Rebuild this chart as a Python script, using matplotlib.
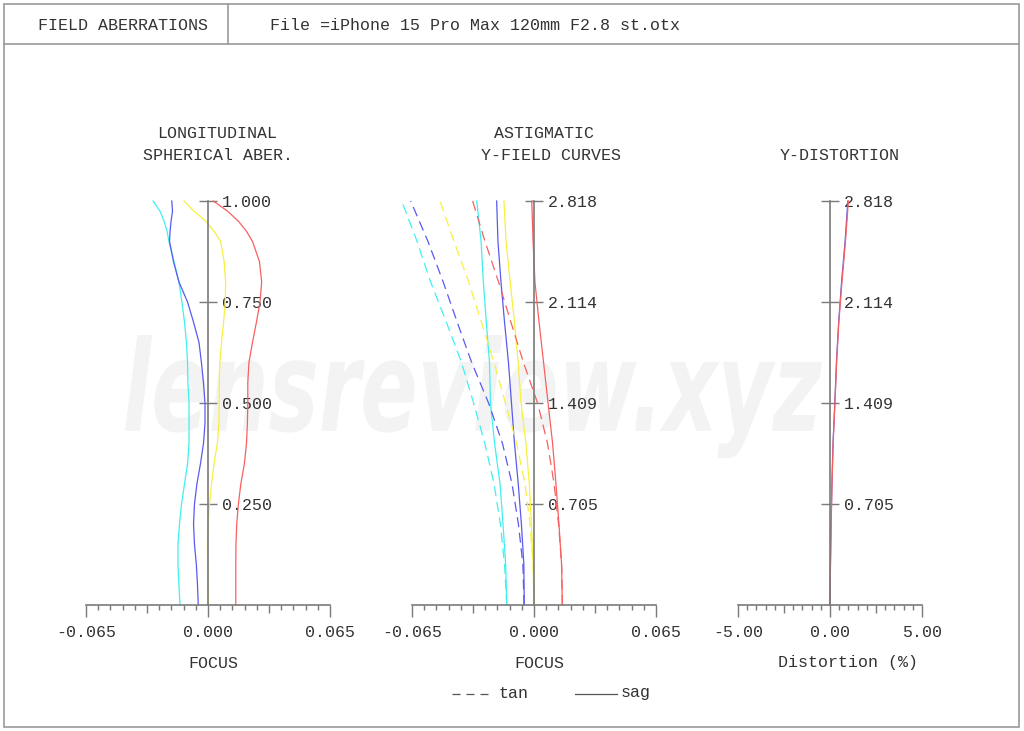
import numpy as np
import matplotlib
matplotlib.use("Agg")
import matplotlib.pyplot as plt
from matplotlib.lines import Line2D
from matplotlib.patches import Rectangle, PathPatch
from matplotlib.textpath import TextPath
from matplotlib.font_manager import FontProperties
from matplotlib.transforms import Affine2D

plt.rcParams['font.family'] = ['Liberation Mono', 'DejaVu Sans Mono']
plt.rcParams['font.size'] = 12

W, H = 1024, 731
TXT = '#333333'
AX = '#7a7a7a'
COLORS = {'cyan': '#40f0f0', 'blue': '#5a5af0', 'yellow': '#f8f040', 'red': '#f86060'}

# ---- longitudinal spherical aberration (relative pupil height vs focus, mm)
pupil = [0.0, 0.05, 0.1, 0.15, 0.2, 0.25, 0.3, 0.35, 0.4, 0.45, 0.5, 0.55, 0.6,
         0.65, 0.7, 0.75, 0.8, 0.85, 0.9, 0.925, 0.95, 0.975, 1.0]
sph_cyan = [-0.0149, -0.0155, -0.0160, -0.0160, -0.0152, -0.0141, -0.0125, -0.0109,
            -0.0101, -0.0101, -0.0101, -0.0107, -0.0109, -0.0115, -0.0125, -0.0139,
            -0.0155, -0.0181, -0.0208, -0.0218, -0.0234, -0.0256, -0.0293]
sph_blue = [-0.0052, -0.0056, -0.0062, -0.0072, -0.0077, -0.0072, -0.0059, -0.0040,
            -0.0024, -0.0016, -0.0016, -0.0024, -0.0035, -0.0048, -0.0077, -0.0109,
            -0.0155, -0.0184, -0.0205, -0.0202, -0.0197, -0.0189, -0.0193]
sph_yellow = [0.0002, 0.0000, -0.0002, -0.0003, 0.0000, 0.0008, 0.0019, 0.0032,
              0.0050, 0.0058, 0.0060, 0.0060, 0.0063, 0.0072, 0.0083, 0.0092,
              0.0094, 0.0086, 0.0067, 0.0032, -0.0011, -0.0075, -0.0128]
sph_red = [0.0148, 0.0148, 0.0148, 0.0149, 0.0153, 0.0162, 0.0175, 0.0194,
           0.0205, 0.0210, 0.0212, 0.0212, 0.0218, 0.0237, 0.0258, 0.0277,
           0.0286, 0.0274, 0.0237, 0.0205, 0.0162, 0.0104, 0.0028]

# ---- astigmatic field curves (field height in mm)
field_max = 2.818
field_frac = [0.0, 0.1, 0.2, 0.3, 0.4, 0.5, 0.6, 0.7, 0.8, 0.9, 1.0]
tan_cyan = [-0.0145, -0.0157, -0.0179, -0.0213, -0.0262, -0.0322, -0.0386, -0.0467, -0.0551, -0.0623, -0.0705]
sag_cyan = [-0.0145, -0.0151, -0.0165, -0.0181, -0.0210, -0.0232, -0.0237, -0.0254, -0.0270, -0.0282, -0.0305]
tan_blue = [-0.0053, -0.0059, -0.0083, -0.0117, -0.0168, -0.0242, -0.0332, -0.0409, -0.0484, -0.0565, -0.0657]
sag_blue = [-0.0052, -0.0054, -0.0067, -0.0084, -0.0104, -0.0120, -0.0136, -0.0157, -0.0176, -0.0192, -0.0199]
tan_yellow = [0.0000, -0.0005, -0.0021, -0.0048, -0.0093, -0.0152, -0.0213, -0.0280, -0.0348, -0.0426, -0.0501]
sag_yellow = [0.0000, -0.0004, -0.0014, -0.0025, -0.0043, -0.0069, -0.0084, -0.0104, -0.0127, -0.0149, -0.0160]
tan_red = [0.0151, 0.0147, 0.0131, 0.0107, 0.0072, 0.0019, -0.0056, -0.0123, -0.0189, -0.0261, -0.0327]
sag_red = [0.0151, 0.0147, 0.0133, 0.0117, 0.0099, 0.0075, 0.0051, 0.0027, 0.0005, -0.0005, -0.0012]

# ---- distortion (%)
dist_blue = [0.0, 0.024, 0.058, 0.105, 0.165, 0.26, 0.35, 0.47, 0.63, 0.82, 0.97]
dist_red = [0.0, 0.025, 0.06, 0.11, 0.17, 0.27, 0.36, 0.48, 0.65, 0.84, 1.00]

sph_ticks = [0.25, 0.5, 0.75, 1.0]
sph_ticklabels = ['0.250', '0.500', '0.750', '1.000']
field_ticks = [0.705, 1.409, 2.114, 2.818]
field_ticklabels = ['0.705', '1.409', '2.114', '2.818']


def px(x, y):
    return x / W, 1 - y / H


fig = plt.figure(figsize=(W / 100, H / 100), dpi=100)

# frame
fig.add_artist(Rectangle(px(4, 727), 1015 / W, 723 / H, transform=fig.transFigure,
                         fill=False, edgecolor='#999999', lw=1.2))
fig.add_artist(Line2D([4 / W, 1019 / W], [1 - 44 / H] * 2, transform=fig.transFigure,
                      color='#999999', lw=1.2))
fig.add_artist(Line2D([228 / W] * 2, [1 - 4 / H, 1 - 44 / H], transform=fig.transFigure,
                      color='#999999', lw=1.2))
fig.text(*px(38, 25), 'FIELD ABERRATIONS', color=TXT, va='center', ha='left')
fig.text(*px(270, 25), 'File =iPhone 15 Pro Max 120mm F2.8 st.otx', color=TXT, va='center', ha='left')

# watermark
tp = TextPath((0, 0), 'lensreview.xyz', size=1,
              prop=FontProperties(family='DejaVu Sans', weight='bold', style='oblique'))
ext = tp.get_extents()
sx = (822 - 125) / ext.width
sy = (458 - 335) / ext.height
tr = Affine2D().translate(-ext.x0, -ext.y0).scale(sx / W, sy / H).translate(125 / W, (H - 458) / H)
wm = PathPatch(tp, transform=tr + fig.transFigure, facecolor='#f3f3f3', edgecolor='none', zorder=-5)
fig.add_artist(wm)


def make_axes(left, right, xlim, ymax, xmaj, xmaj_labels, xmed, xminor_step, yticks, ylabels):
    ax = fig.add_axes([left / W, (H - 605) / H, (right - left) / W, 404 / H])
    ax.set_facecolor('none')
    ax.set_xlim(*xlim)
    ax.set_ylim(0, ymax)
    for s in ['top', 'left']:
        ax.spines[s].set_visible(False)
    ax.spines['bottom'].set_color(AX)
    ax.spines['bottom'].set_linewidth(1.2)
    ax.spines['right'].set_position(('data', 0))
    ax.spines['right'].set_color(AX)
    ax.spines['right'].set_linewidth(1.2)
    ax.yaxis.tick_right()
    ax.set_yticks(yticks)
    ax.set_yticklabels(ylabels)
    ax.tick_params(axis='y', direction='inout', length=12.5, width=1.0, color=AX,
                   pad=3.5, labelcolor=TXT, labelsize=12)
    majors = sorted(list(xmaj) + list(xmed))
    ax.set_xticks(majors)
    ax.set_xticklabels([xmaj_labels[xmaj.index(v)] if v in xmaj else '' for v in majors])
    ax.set_xticks(np.arange(xlim[0], xlim[1] + 1e-9, xminor_step), minor=True)
    ax.tick_params(axis='x', which='major', direction='out', length=8.6, width=1.0,
                   color=AX, pad=6, labelcolor=TXT, labelsize=12)
    ax.tick_params(axis='x', which='minor', direction='out', length=3.6, width=1.0, color=AX)
    for v, t in zip(majors, ax.xaxis.get_major_ticks()):
        if v in xmed:
            t.tick1line.set_markersize(5.8)
    return ax


ax1 = make_axes(86, 330, (-0.065, 0.065), 1.0, [-0.065, 0.0, 0.065],
                ['-0.065', '0.000', '0.065'], [-0.0325, 0.0325], 0.0065,
                sph_ticks, sph_ticklabels)
ax2 = make_axes(412, 656, (-0.065, 0.065), field_max, [-0.065, 0.0, 0.065],
                ['-0.065', '0.000', '0.065'], [-0.0325, 0.0325], 0.0065,
                field_ticks, field_ticklabels)
ax3 = make_axes(738, 922, (-5.0, 5.0), field_max, [-5.0, 0.0, 5.0],
                ['-5.00', '0.00', '5.00'], [-2.5, 2.5], 0.5,
                field_ticks, field_ticklabels)

LW = 0.9
DASH = (0, (8, 4.5))

for vals, c in [(sph_cyan, 'cyan'), (sph_blue, 'blue'), (sph_yellow, 'yellow'), (sph_red, 'red')]:
    ax1.plot(vals, pupil, color=COLORS[c], lw=LW, clip_on=False)

field = np.array(field_frac) * field_max
for t, s, c in [(tan_cyan, sag_cyan, 'cyan'), (tan_blue, sag_blue, 'blue'),
                (tan_yellow, sag_yellow, 'yellow'), (tan_red, sag_red, 'red')]:
    ax2.plot(t, field, color=COLORS[c], lw=LW, ls=DASH, clip_on=False)
    ax2.plot(s, field, color=COLORS[c], lw=LW, clip_on=False)

ax3.plot(dist_blue, field, color=COLORS['blue'], lw=LW, clip_on=False)
ax3.plot(dist_red, field, color=COLORS['red'], lw=LW, clip_on=False)

# titles and axis captions
fig.text(*px(217, 134), 'LONGITUDINAL', color=TXT, ha='center', va='center')
fig.text(*px(218, 155), 'SPHERICAl ABER.', color=TXT, ha='center', va='center')
fig.text(*px(544, 134), 'ASTIGMATIC', color=TXT, ha='center', va='center')
fig.text(*px(551, 155), 'Y-FIELD CURVES', color=TXT, ha='center', va='center')
fig.text(*px(840, 155), 'Y-DISTORTION', color=TXT, ha='center', va='center')
fig.text(*px(213, 663), 'FOCUS', color=TXT, ha='center', va='center')
fig.text(*px(539, 663), 'FOCUS', color=TXT, ha='center', va='center')
fig.text(*px(848, 663), 'Distortion (%)', color=TXT, ha='center', va='center')

# legend
fig.add_artist(Line2D([452 / W, 488 / W], [1 - 694 / H] * 2, transform=fig.transFigure,
                      color='#555555', lw=LW, ls=(0, (6.4, 4.8))))
fig.text(*px(499, 693), 'tan', color=TXT, ha='left', va='center')
fig.add_artist(Line2D([575 / W, 617 / W], [1 - 694 / H] * 2, transform=fig.transFigure,
                      color='#555555', lw=LW))
fig.text(*px(621, 693), 'sag', color=TXT, ha='left', va='center')

fig.savefig('out.png', dpi=100, facecolor='white')
